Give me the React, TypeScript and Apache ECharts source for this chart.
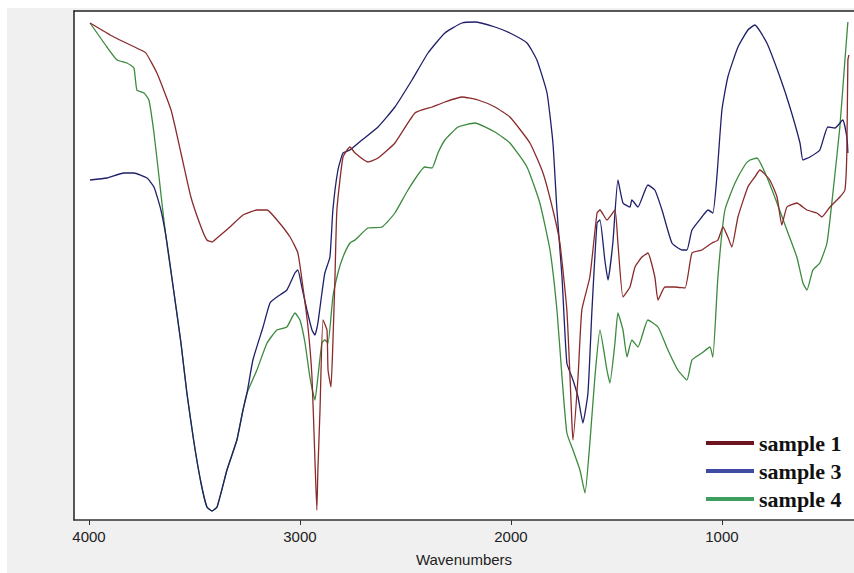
import React, { useEffect, useRef } from "react";
import * as echarts from "echarts";

const seriesNames = ["sample 1", "sample 3", "sample 4"];
const xTicks = [4000, 3000, 2000, 1000];

const s1Wn = [3995, 3882, 3754, 3730, 3678, 3611, 3564, 3517, 3469, 3441, 3417, 3393, 3332, 3270, 3204, 3156, 3109, 3047, 3010, 2986, 2962, 2943, 2929, 2920, 2915, 2905, 2891, 2872, 2867, 2853, 2844, 2834, 2825, 2796, 2763, 2739, 2678, 2630, 2550, 2455, 2374, 2313, 2232, 2156, 2076, 2005, 1910, 1848, 1801, 1768, 1735, 1720, 1711, 1706, 1682, 1664, 1626, 1592, 1578, 1545, 1507, 1493, 1469, 1436, 1412, 1379, 1351, 1318, 1303, 1270, 1223, 1175, 1142, 1095, 1047, 1019, 995, 972, 953, 924, 877, 844, 820, 773, 739, 716, 692, 645, 597, 550, 526, 488, 441, 417, 408, 403, 398];
const s1T = [497, 483, 470, 467, 447, 410, 367, 323, 293, 280, 278, 282, 293, 305, 310, 310, 300, 283, 267, 233, 193, 143, 60, 10, 50, 110, 200, 190, 150, 133, 177, 243, 310, 363, 373, 367, 358, 362, 377, 407, 413, 418, 423, 420, 413, 403, 377, 347, 310, 277, 210, 143, 97, 80, 143, 210, 243, 307, 310, 300, 310, 277, 223, 233, 253, 263, 267, 243, 220, 233, 233, 232, 267, 270, 277, 280, 293, 283, 273, 303, 333, 343, 350, 340, 323, 295, 313, 317, 310, 307, 303, 313, 323, 330, 367, 460, 465];

const s3Wn = [3995, 3915, 3834, 3787, 3725, 3692, 3659, 3630, 3597, 3564, 3536, 3502, 3469, 3441, 3417, 3393, 3346, 3299, 3270, 3251, 3223, 3175, 3142, 3109, 3062, 3024, 3010, 2991, 2967, 2943, 2929, 2915, 2896, 2882, 2858, 2844, 2820, 2796, 2763, 2706, 2630, 2550, 2469, 2393, 2313, 2232, 2171, 2076, 2005, 1924, 1877, 1829, 1801, 1782, 1758, 1735, 1706, 1682, 1659, 1635, 1616, 1592, 1578, 1555, 1540, 1517, 1493, 1469, 1436, 1427, 1398, 1351, 1318, 1284, 1237, 1190, 1166, 1142, 1095, 1066, 1043, 1024, 1000, 972, 924, 877, 844, 787, 725, 678, 630, 616, 583, 536, 498, 464, 427, 408, 403];
const s3T = [340, 342, 347, 347, 342, 333, 310, 277, 227, 177, 127, 77, 37, 13, 9, 13, 50, 80, 110, 127, 160, 193, 217, 223, 230, 247, 250, 233, 210, 190, 185, 197, 227, 247, 263, 310, 350, 367, 370, 380, 393, 413, 440, 467, 487, 497, 498, 493, 487, 477, 460, 427, 377, 310, 243, 157, 140, 123, 97, 127, 210, 297, 300, 260, 240, 277, 340, 317, 313, 320, 313, 335, 330, 310, 277, 270, 270, 290, 303, 310, 307, 343, 410, 443, 473, 490, 495, 477, 443, 413, 377, 360, 363, 370, 393, 392, 400, 383, 367];

const s4Wn = [3995, 3915, 3867, 3820, 3787, 3773, 3739, 3716, 3692, 3668, 3645, 3630, 3597, 3564, 3536, 3502, 3469, 3441, 3417, 3393, 3346, 3299, 3270, 3251, 3204, 3156, 3109, 3062, 3024, 3000, 2976, 2953, 2929, 2915, 2896, 2882, 2867, 2844, 2820, 2796, 2763, 2739, 2678, 2611, 2550, 2488, 2408, 2374, 2346, 2313, 2251, 2171, 2076, 2005, 1924, 1863, 1815, 1782, 1758, 1735, 1706, 1673, 1649, 1626, 1602, 1578, 1545, 1531, 1507, 1493, 1469, 1450, 1427, 1398, 1351, 1303, 1256, 1209, 1166, 1142, 1095, 1057, 1043, 1019, 986, 938, 891, 867, 834, 787, 739, 692, 645, 616, 597, 569, 536, 502, 474, 441, 417, 403];
const s4T = [497, 473, 460, 457, 452, 430, 427, 420, 387, 343, 300, 275, 227, 177, 127, 77, 37, 13, 9, 13, 50, 80, 110, 127, 150, 177, 190, 193, 207, 200, 177, 143, 120, 143, 177, 180, 177, 223, 247, 263, 277, 280, 292, 293, 307, 330, 353, 352, 367, 380, 393, 397, 388, 377, 353, 317, 270, 210, 143, 87, 70, 50, 27, 77, 143, 190, 150, 137, 177, 207, 190, 163, 180, 173, 200, 193, 170, 150, 140, 160, 167, 173, 163, 243, 310, 337, 355, 360, 362, 343, 317, 290, 263, 237, 230, 250, 257, 277, 327, 393, 460, 498];

const lineColors = ["#8a2b2b", "#1f1f6a", "#3b8a3e"];
const legendColors = ["#6e1420", "#3f4ba3", "#3e9e5f"];

const zip = (xs: number[], ys: number[]) => xs.map((x, i) => [x, ys[i]]);

export default function App() {
  const ref = useRef<HTMLDivElement>(null);
  useEffect(() => {
    document.body.style.margin = "0";
    document.body.style.overflow = "hidden";
    document.documentElement.style.overflow = "hidden";
    if (!ref.current) return;
    const chart = echarts.init(ref.current, undefined, { renderer: "svg" });
    const datasets = [zip(s1Wn, s1T), zip(s3Wn, s3T), zip(s4Wn, s4T)];
    chart.setOption({
      animation: false,
      backgroundColor: "#f0f0f0",
      grid: {
        left: 67,
        top: 3,
        right: 0,
        bottom: 53,
        show: true,
        backgroundColor: "#ffffff",
        borderWidth: 0,
      },
      legend: {
        orient: "vertical",
        left: 694,
        top: 419,
        itemWidth: 48,
        itemHeight: 4,
        itemGap: 6,
        icon: "rect",
        data: seriesNames.map((n, i) => ({ name: n, itemStyle: { color: legendColors[i] } })),
        textStyle: {
          fontFamily: "Liberation Serif",
          fontWeight: "bold",
          fontSize: 22,
          color: "#111",
        },
      },
      xAxis: [
        {
          type: "value",
          inverse: true,
          min: 374,
          max: 4071,
          name: "Wavenumbers",
          nameLocation: "middle",
          nameGap: 32,
          nameTextStyle: { fontFamily: "Liberation Sans", fontSize: 15, color: "#222" },
          axisLine: { show: true, lineStyle: { color: "#333", width: 1.5 } },
          axisTick: { show: true, length: 5, customValues: xTicks, lineStyle: { color: "#333" } },
          axisLabel: {
            customValues: xTicks,
            formatter: (v: number) => String(v),
            fontFamily: "Liberation Sans",
            fontSize: 15,
            color: "#222",
            margin: 9,
          },
          splitLine: { show: false },
        },
        {
          type: "value",
          position: "top",
          inverse: true,
          min: 374,
          max: 4071,
          axisLine: { show: true, lineStyle: { color: "#222", width: 1.5 } },
          axisTick: { show: false },
          axisLabel: { show: false },
          splitLine: { show: false },
        },
      ],
      yAxis: {
        type: "value",
        min: 0,
        max: 509,
        axisLine: { show: true, lineStyle: { color: "#222", width: 1.5 } },
        axisTick: { show: false },
        axisLabel: { show: false },
        splitLine: { show: false },
      },
      series: datasets.map((d, i) => ({
        name: seriesNames[i],
        type: "line",
        xAxisIndex: 0,
        data: d,
        showSymbol: false,
        symbol: "none",
        smooth: 0.15,
        lineStyle: { color: lineColors[i], width: 1.3 },
        itemStyle: { color: lineColors[i] },
        z: i === 0 ? 4 : 3 - i,
      })),
    });
    return () => chart.dispose();
  }, []);
  return (
    <div style={{ width: 854, height: 573, background: "#ffffff", position: "relative", overflow: "hidden" }}>
      <div ref={ref} style={{ position: "absolute", left: 7, top: 8, width: 847, height: 565 }} />
    </div>
  );
}
